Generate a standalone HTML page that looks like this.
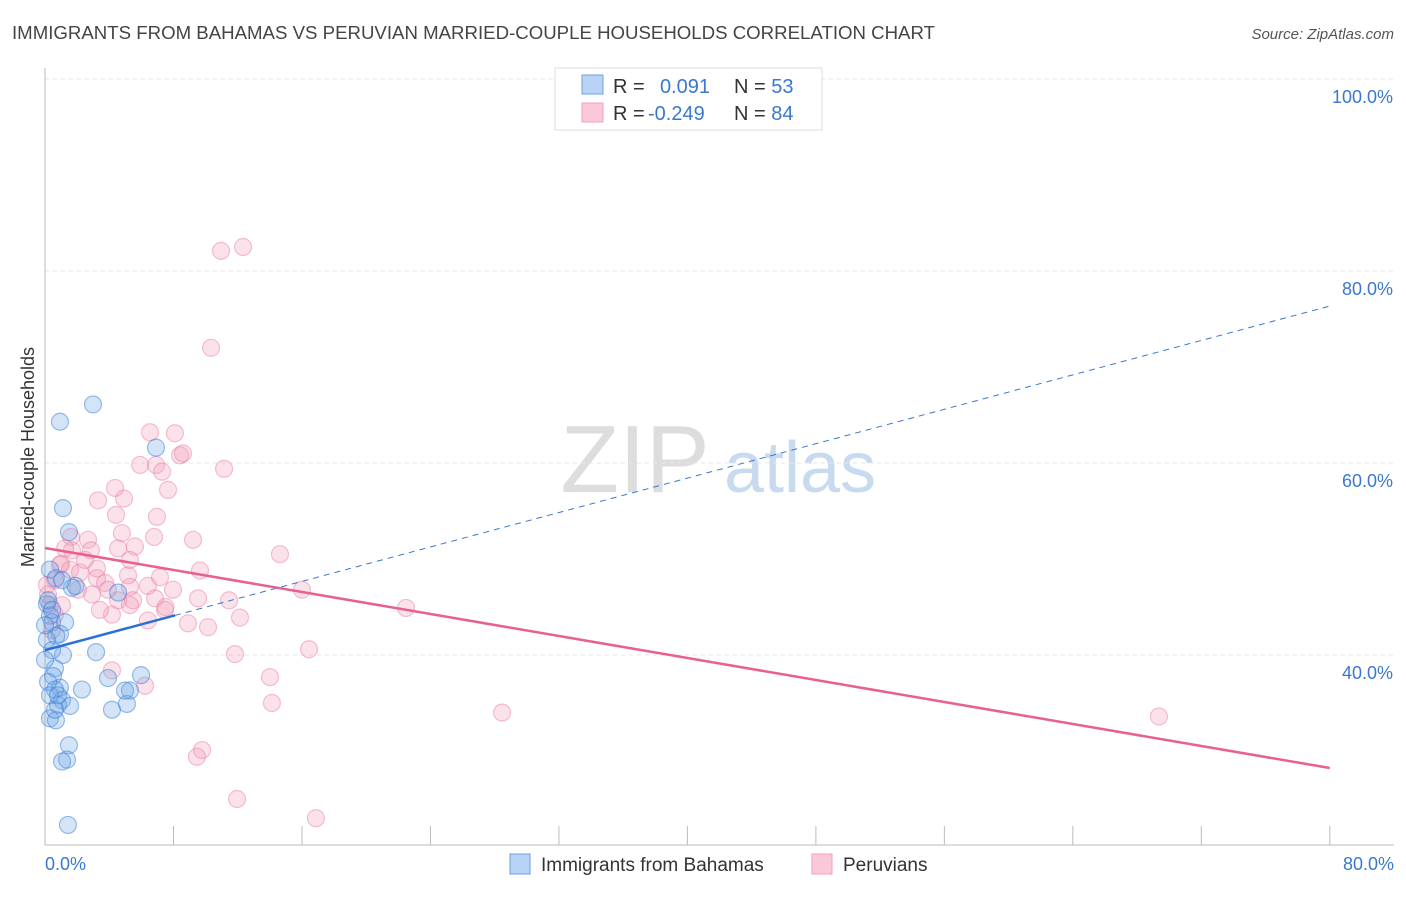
<!DOCTYPE html>
<html><head><meta charset="utf-8"><style>
body{margin:0;background:#fff;font-family:"Liberation Sans",sans-serif}
svg text{font-family:"Liberation Sans",sans-serif}
</style></head><body>
<svg id="chart" width="1406" height="892" xmlns="http://www.w3.org/2000/svg">
<text x="12" y="39" font-size="18" fill="#444" textLength="923" lengthAdjust="spacingAndGlyphs">IMMIGRANTS FROM BAHAMAS VS PERUVIAN MARRIED-COUPLE HOUSEHOLDS CORRELATION CHART</text>
<text x="1394" y="39" font-size="15" fill="#555" font-style="italic" text-anchor="end">Source: ZipAtlas.com</text>
<g><text x="635" y="492" font-size="96" fill="#ddd" font-family="Liberation Serif" text-anchor="middle">ZIP</text><text x="800" y="492" font-size="72" fill="#c8daf0" text-anchor="middle">atlas</text></g>
<g id="grid"></g><g id="axes"></g><g id="pts"></g><g id="lines"></g>
<text transform="translate(34,457) rotate(-90)" font-size="18" fill="#333" text-anchor="middle">Married-couple Households</text>
<text x="45" y="870" font-size="18" fill="#3a78d0">0.0%</text>
<text x="1394" y="870" font-size="18" fill="#3a78d0" text-anchor="end">80.0%</text>
<g>
<rect x="555" y="68" width="267" height="62" fill="#fff" stroke="#ddd"/>
<rect x="582" y="75" width="21" height="19" fill="#b8d3f5" stroke="#6fa0e0"/>
<rect x="582" y="103" width="21" height="19" fill="#fac8d8" stroke="#f0a0b8"/>
<text x="613" y="93" font-size="20" fill="#333">R = <tspan fill="#3a78d0" x="660">0.091</tspan><tspan x="734">N = </tspan><tspan fill="#3a78d0">53</tspan></text>
<text x="613" y="120" font-size="20" fill="#333">R = <tspan fill="#3a78d0" x="648">-0.249</tspan><tspan x="734">N = </tspan><tspan fill="#3a78d0">84</tspan></text>
</g>
<g>
<rect x="510" y="854" width="20" height="20" fill="#b8d3f5" stroke="#6fa0e0"/>
<text x="541" y="871" font-size="19" fill="#333">Immigrants from Bahamas</text>
<rect x="812" y="854" width="20" height="20" fill="#fac8d8" stroke="#f0a0b8"/>
<text x="843" y="871" font-size="19" fill="#333">Peruvians</text>
</g>
</svg>
<script>
const yTicks=[100,80,60,40];
const yTickLabels=["100.0%","80.0%","60.0%","40.0%"];
const xTickVals=[0,8,16,24,32,40,48,56,64,72,80];
const blueX=[2.99,0.93,1.12,1.49,6.91,0.31,0.68,1.68,4.55,0.12,0.31,0.44,1.25,0.93,0.7,3.18,1.12,0.62,0.5,2.3,0.93,0.62,1.06,0.81,1.56,4.17,5.1,5.29,4.98,5.98,3.92,1.49,1.37,1.06,1.43,0.31,0.68,0.12,0.44,0.19,0.44,1.9,1.06,0,0.19,0.62,0.31,0,0.81];
const blueY=[66.1,64.3,55.3,52.8,61.6,48.9,48.0,47.0,46.5,45.3,44.1,43.4,43.4,42.2,42.0,40.3,40.0,38.6,37.8,36.4,36.6,36.4,35.3,34.8,34.7,34.3,34.9,36.3,36.3,37.9,37.6,30.6,29.1,28.9,22.3,33.4,33.2,41.6,40.5,45.7,44.7,47.2,47.8,39.5,37.2,34.3,35.8,43.1,35.8];
const pinkX=[12.33,10.96,10.34,6.54,8.09,6.91,8.41,8.59,5.92,11.15,7.29,7.66,3.3,4.92,4.36,6.97,4.42,4.79,6.79,1.62,2.68,5.6,9.22,14.63,2.86,4.55,1.68,0.93,3.24,1.56,0.62,0.12,2.18,3.24,3.74,5.17,7.16,9.65,3.92,5.29,6.41,7.97,6.85,7.47,4.55,5.48,4.17,5.29,3.42,8.9,10.15,11.46,12.14,16.0,22.48,11.83,16.44,9.53,14.01,14.13,4.17,6.23,28.46,69.36,9.46,9.78,11.96,16.87,0.62,0.31,0.19,1.0,2.49,5.29,6.41,7.5,2.05,2.93,1.25,1.06,0.44];
const pinkY=[82.5,82.1,72.0,63.2,63.1,59.8,60.8,61.0,59.8,59.4,59.1,57.2,56.1,56.3,57.4,54.4,54.6,52.7,52.3,52.3,52.0,51.3,52.0,50.5,50.9,51.1,50.9,49.4,49.0,48.9,47.8,47.3,48.6,48.0,47.5,48.3,48.1,48.8,46.8,47.1,47.2,46.8,45.9,44.7,45.7,45.7,44.2,45.2,44.7,43.3,42.9,45.7,43.9,46.8,44.9,40.1,40.6,45.9,37.7,35.0,38.4,36.8,34.0,33.6,29.4,30.1,25.0,23.0,44.2,45.2,46.3,49.5,49.9,49.9,43.6,45.0,46.8,46.3,51.1,45.2,42.6];
const blueTrend=[40.5,76.35];
const blueSolidEnd=8.1;
const pinkTrend=[51.15,28.23];
const NS="http://www.w3.org/2000/svg";
const sx=v=>45+v*16.06;
const sy=v=>655-(v-40)*9.6;
function mk(tag,attrs,parent){const e=document.createElementNS(NS,tag);for(const k in attrs)e.setAttribute(k,attrs[k]);document.getElementById(parent).appendChild(e);return e;}
yTicks.forEach((t,i)=>{
 const l=mk('line',{x1:45,x2:1394,y1:sy(t),y2:sy(t),stroke:'#e6e6e6','stroke-dasharray':'4,4'},'grid');
 
 
 const tx=mk('text',{x:1393,y:sy(t)+24,'font-size':18,fill:'#3a78d0','text-anchor':'end'},'grid');
 tx.textContent=yTickLabels[i];
 
 
});
const ax=mk('line',{x1:45,x2:45,y1:68,y2:845,stroke:'#bbb'},'axes');


const bx=mk('line',{x1:45,x2:1394,y1:845,y2:845,stroke:'#bbb'},'axes');


xTickVals.forEach(v=>{
 const t=mk('line',{x1:sx(v),x2:sx(v),y1:826,y2:845,stroke:'#bbb'},'axes');
 
 
});
pinkX.forEach((x,i)=>{
 const c=mk('circle',{cx:sx(x),cy:sy(pinkY[i]),r:8.5,fill:'rgba(242,150,180,0.28)',stroke:'rgba(232,120,160,0.45)','stroke-width':1.2},'pts');
 
 
});
blueX.forEach((x,i)=>{
 const c=mk('circle',{cx:sx(x),cy:sy(blueY[i]),r:8.5,fill:'rgba(110,165,230,0.3)',stroke:'rgba(60,125,215,0.5)','stroke-width':1.2},'pts');
 
 
});
const bAt=x=>blueTrend[0]+(blueTrend[1]-blueTrend[0])*x/80;
const bd=mk('line',{x1:sx(blueSolidEnd),y1:sy(bAt(blueSolidEnd)),x2:sx(80),y2:sy(blueTrend[1]),stroke:'#3a78d0','stroke-width':1,'stroke-dasharray':'6,5'},'lines');


const bs=mk('line',{x1:sx(0),y1:sy(blueTrend[0]),x2:sx(blueSolidEnd),y2:sy(bAt(blueSolidEnd)),stroke:'#2a6fd6','stroke-width':2.5},'lines');


const pl=mk('line',{x1:sx(0),y1:sy(pinkTrend[0]),x2:sx(80),y2:sy(pinkTrend[1]),stroke:'#e8608e','stroke-width':2.5},'lines');


</script>
</body></html>
